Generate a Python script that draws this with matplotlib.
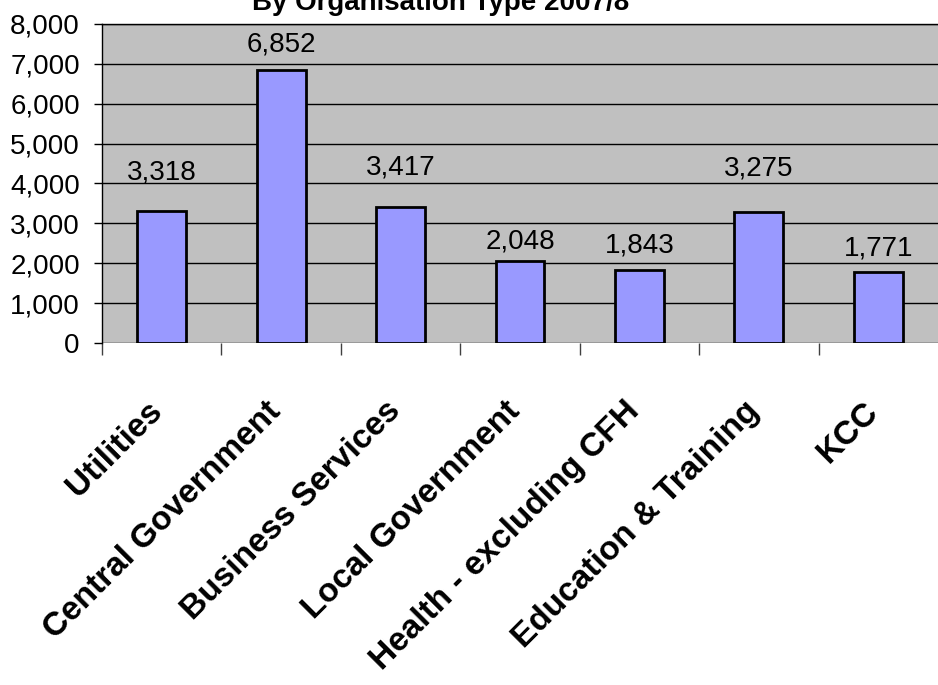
import matplotlib.pyplot as plt
from matplotlib.ticker import FuncFormatter

categories = ['Utilities', 'Central Government', 'Business Services',
              'Local Government', 'Health - excluding CFH',
              'Education & Training', 'KCC']
values = [3318, 6852, 3417, 2048, 1843, 3275, 1771]
# label gap above each bar, in pixels (labels were hand-placed in the original)
label_gap = [31, 18, 32, 13, 17, 37, 17]

plt.rcParams['font.family'] = ['Liberation Sans', 'DejaVu Sans']

fig = plt.figure(figsize=(9.38, 6.85), dpi=100)
ax = fig.add_axes([102 / 938, 1 - 343 / 685, 836 / 938, 319 / 685])
ax.set_facecolor('#C0C0C0')

x = list(range(len(categories)))
ax.bar(x, values, width=0.41, color='#9999FF', edgecolor='black',
       linewidth=2, zorder=3)

for xi, v, g in zip(x, values, label_gap):
    ax.annotate('{:,}'.format(v), (xi, v), xytext=(0, g * 0.72),
                textcoords='offset points', ha='center', va='baseline',
                fontsize=20)

ax.set_xlim(-0.5, len(categories) - 0.5)
ax.set_ylim(0, 8000)
ax.set_yticks(range(0, 8001, 1000))
ax.yaxis.set_major_formatter(FuncFormatter(lambda v, p: '{:,}'.format(int(v))))
ax.yaxis.grid(True, color='black', linewidth=1)
ax.set_axisbelow(True)
ax.tick_params(axis='y', labelsize=20, length=6, width=1, pad=10)

ax.set_xticks([i - 0.5 for i in x])
ax.set_xticklabels([])
ax.tick_params(axis='x', length=8.6, width=1, color='#404040')
for xi, name in zip(x, categories):
    ax.text(xi - 0.13, -0.165, name, transform=ax.get_xaxis_transform(),
            rotation=45, rotation_mode='anchor', ha='right', va='top',
            fontsize=24, fontweight='bold')

for s in ['right', 'bottom']:
    ax.spines[s].set_visible(False)
ax.spines['left'].set_linewidth(1)
ax.spines['top'].set_linewidth(1)

fig.text(441 / 938, 1 - 10 / 685, 'By Organisation Type 2007/8',
         ha='center', va='baseline', fontsize=20, fontweight='bold')

fig.savefig('out.png', dpi=100)
